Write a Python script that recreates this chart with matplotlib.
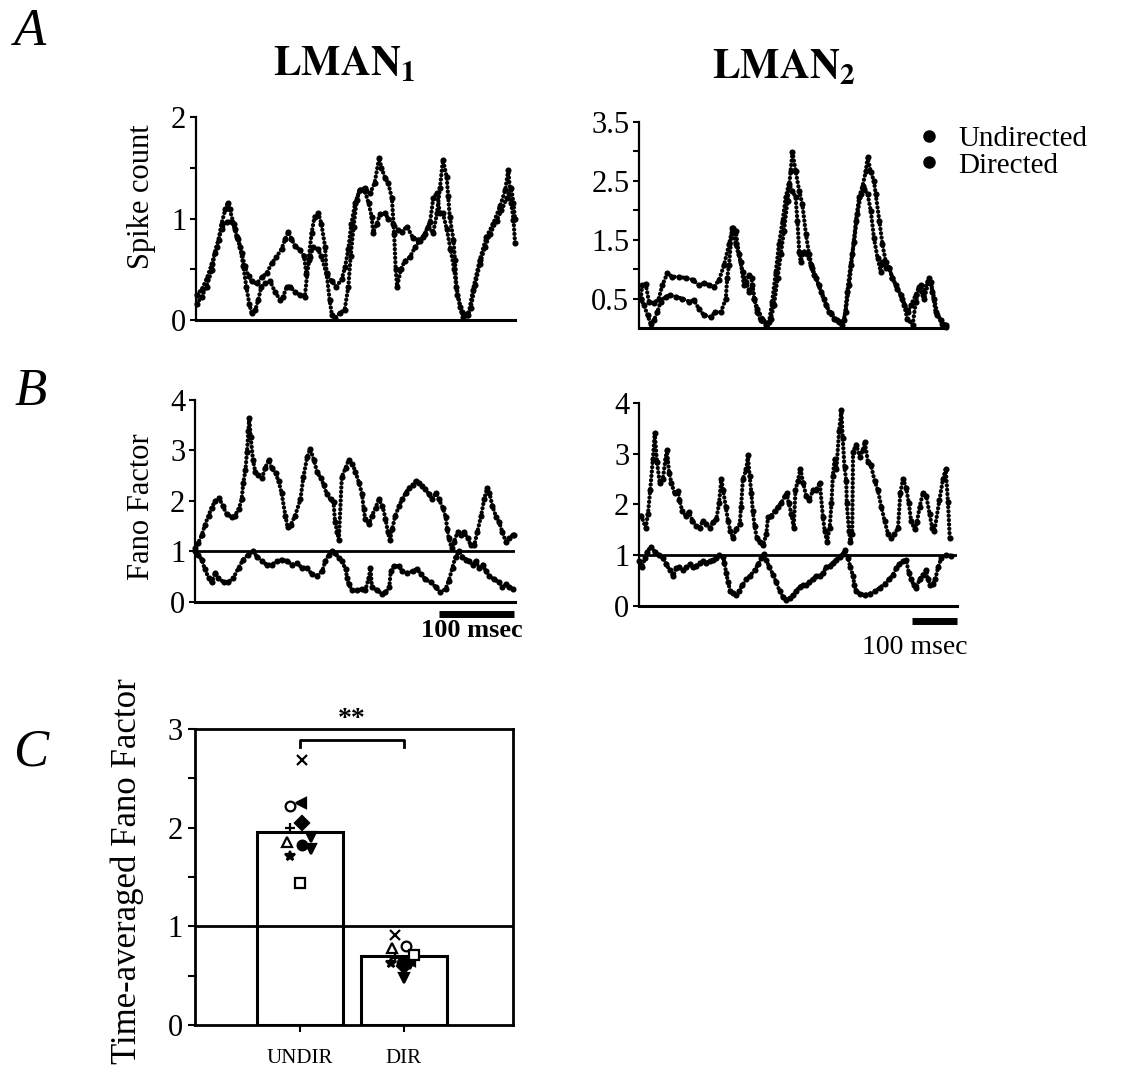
import matplotlib
matplotlib.use('Agg')
import matplotlib.pyplot as plt
from matplotlib.lines import Line2D

plt.rcParams['font.family'] = 'serif'
plt.rcParams['font.serif'] = ['Liberation Serif', 'DejaVu Serif']
plt.rcParams['mathtext.fontset'] = 'stix'

# ---- data (time in msec) ----
# A, LMAN1 spike count
a1_t1 = [1, 7.5, 14, 21, 25, 30, 34, 39, 42, 45, 50, 54, 59, 63, 67, 71, 74, 79, 83, 87,
         92, 99, 105, 112, 116, 121, 125, 132, 138, 145, 150, 154, 158, 163, 167, 172, 174, 178, 181, 185,
         192, 198, 203, 206, 210, 214, 218, 225, 230, 234, 236, 241, 245, 252, 256, 263, 269, 274, 281, 289,
         296, 303, 309, 316, 321, 325, 329, 334, 336, 338, 343, 345, 347, 352, 356, 363, 369, 378, 387, 396,
         405, 412, 416, 420, 423, 425]
a1_v1 = [0.16, 0.23, 0.33, 0.49, 0.66, 0.79, 0.95, 1.09, 1.15, 1.09, 0.95, 0.82, 0.72, 0.53, 0.33, 0.16, 0.07, 0.10, 0.20, 0.33,
         0.36, 0.38, 0.28, 0.20, 0.23, 0.33, 0.33, 0.28, 0.25, 0.23, 0.59, 0.86, 1.02, 1.05, 0.95, 0.72, 0.46, 0.20, 0.05, 0.02,
         0.07, 0.10, 0.33, 0.63, 0.92, 1.18, 1.28, 1.27, 1.15, 1.02, 0.86, 0.95, 1.04, 1.05, 1.00, 0.95, 0.89, 0.87, 0.92, 0.81,
         0.79, 0.82, 0.92, 0.86, 1.05, 1.30, 1.58, 1.41, 1.22, 1.02, 0.79, 0.59, 0.33, 0.13, 0.03, 0.05, 0.30, 0.59, 0.82, 0.95,
         1.12, 1.28, 1.48, 1.15, 0.99, 0.76]
a1_t2 = [1, 7.5, 14, 21, 27.5, 34, 41, 47.5, 52, 56, 61, 65, 70, 74, 81, 87.5, 94, 101, 107, 114,
         119, 123, 127, 132, 138.5, 144, 147, 152, 156, 162, 167, 174, 181, 187, 194, 198.5, 203, 207, 212, 218,
         225, 232, 238, 244, 247, 252, 256, 261, 264, 266, 268, 273, 278, 285, 292, 298, 305, 312, 316, 321,
         325, 329, 334, 339, 344, 348, 354, 360.5, 366, 372, 378, 385, 392, 400.5, 407, 414, 420, 423, 425]
a1_v2 = [0.25, 0.30, 0.40, 0.55, 0.72, 0.90, 0.97, 0.97, 0.90, 0.80, 0.66, 0.53, 0.43, 0.38, 0.36, 0.42, 0.46, 0.56, 0.62, 0.70,
         0.80, 0.87, 0.80, 0.73, 0.69, 0.63, 0.45, 0.62, 0.72, 0.70, 0.63, 0.45, 0.38, 0.33, 0.40, 0.52, 0.70, 0.95, 1.15, 1.28,
         1.30, 1.25, 1.35, 1.60, 1.50, 1.40, 1.35, 1.20, 0.85, 0.50, 0.33, 0.50, 0.58, 0.62, 0.72, 0.78, 0.85, 0.97, 1.20, 1.25,
         1.05, 1.05, 0.90, 0.70, 0.50, 0.25, 0.08, 0.05, 0.12, 0.35, 0.55, 0.72, 0.85, 0.98, 1.08, 1.20, 1.30, 1.15, 1.00]

# A, LMAN2 spike count
a2_t1 = [4, 7, 15, 22, 33, 44, 52, 63, 74, 89, 104, 119, 133, 145, 156, 167, 178, 189, 200, 208,
         215, 222, 230, 237, 245, 252, 256, 263, 274, 285, 293, 300, 308, 315, 322, 330, 337, 341, 348, 356,
         363, 371, 378, 385, 393, 404, 415, 426, 441, 452, 459, 467, 474, 482, 489, 497, 504, 508, 515, 522,
         526, 534, 541, 548, 556, 563, 574, 585, 597, 604, 615, 622, 630, 641, 648, 656, 663, 674, 683]
a2_v1 = [0.50, 0.73, 0.75, 0.45, 0.42, 0.50, 0.73, 0.93, 0.87, 0.87, 0.85, 0.82, 0.73, 0.76, 0.73, 0.70, 0.82, 1.07, 1.42, 1.70,
         1.65, 1.25, 0.96, 0.79, 0.62, 0.73, 0.50, 0.33, 0.16, 0.07, 0.16, 0.39, 0.85, 1.25, 1.65, 2.16, 2.67, 2.99, 2.67, 2.33,
         2.10, 1.59, 1.25, 1.02, 0.85, 0.62, 0.39, 0.25, 0.13, 0.05, 0.27, 0.73, 1.25, 1.82, 2.22, 2.42, 2.67, 2.90, 2.65, 2.50,
         2.27, 1.82, 1.42, 1.13, 1.02, 0.85, 0.67, 0.50, 0.27, 0.39, 0.56, 0.70, 0.56, 0.79, 0.79, 0.50, 0.22, 0.07, 0.02]
a2_t2 = [4, 11, 19, 26, 33, 41, 48, 59, 70, 82, 96, 111, 122, 133, 144, 159, 170, 182, 193, 196,
         200, 207, 215, 226, 233, 245, 250, 256, 263, 270, 282, 289, 296, 304, 311, 319, 326, 333, 341, 348,
         352, 356, 359, 367, 374, 382, 389, 400, 411, 422, 433, 445, 456, 463, 470, 478, 485, 493, 500, 508,
         515, 522, 530, 537, 541, 548, 556, 563, 571, 582, 589, 596, 608, 615, 626, 634, 645, 652, 659, 671, 682]
a2_v2 = [0.50, 0.39, 0.22, 0.07, 0.13, 0.27, 0.45, 0.53, 0.56, 0.53, 0.50, 0.45, 0.47, 0.33, 0.22, 0.19, 0.27, 0.27, 0.50, 0.85,
         1.07, 1.70, 1.42, 1.13, 0.73, 0.90, 0.85, 0.50, 0.27, 0.13, 0.05, 0.10, 0.45, 0.96, 1.42, 1.82, 2.22, 2.45, 2.33, 2.22,
         1.82, 1.30, 1.13, 1.30, 1.25, 1.07, 0.90, 0.73, 0.50, 0.27, 0.16, 0.10, 0.13, 0.62, 1.07, 1.47, 1.93, 2.27, 2.36, 2.27,
         1.99, 1.53, 1.19, 0.96, 1.13, 1.02, 1.02, 0.85, 0.73, 0.56, 0.39, 0.16, 0.05, 0.45, 0.73, 0.50, 0.85, 0.62, 0.27, 0.13, 0.05]

# B, LMAN1 Fano factor
b1_t1 = [0, 4, 9, 13, 18, 22, 27, 32, 37, 42, 49, 53, 58, 62, 64, 67, 69, 71, 72, 74,
         77, 80, 84, 89, 93, 98, 102, 107, 111, 115, 120, 123, 127, 133, 140, 144, 149, 153, 158, 162,
         167, 171, 175, 180, 184, 186, 189, 191, 195, 200, 204, 209, 213, 218, 222, 224, 226, 231, 235, 240,
         244, 249, 253, 256, 259, 262, 266, 271, 275, 280, 284, 289, 293, 297, 302, 306, 311, 315, 320, 324,
         329, 333, 335, 337, 341, 344, 349, 353, 357, 362, 366, 371, 375, 380, 384, 388, 391, 395, 400, 404,
         408, 413, 417, 422, 424]
b1_v1 = [1.06, 1.16, 1.32, 1.52, 1.71, 1.87, 2.0, 2.06, 1.90, 1.74, 1.68, 1.71, 1.84, 2.03, 2.35, 2.61, 2.97, 3.39, 3.65, 3.26,
         2.81, 2.58, 2.52, 2.45, 2.65, 2.81, 2.65, 2.55, 2.39, 2.16, 1.71, 1.48, 1.52, 1.71, 2.03, 2.48, 2.87, 3.03, 2.81, 2.58,
         2.45, 2.32, 2.13, 2.03, 1.97, 1.58, 1.39, 1.23, 2.48, 2.65, 2.81, 2.74, 2.58, 2.35, 2.13, 1.84, 1.65, 1.55, 1.71, 1.87,
         2.03, 1.90, 1.65, 1.39, 1.23, 1.45, 1.71, 1.90, 2.03, 2.16, 2.26, 2.32, 2.39, 2.35, 2.29, 2.23, 2.13, 2.03, 2.16, 2.03,
         1.87, 1.68, 1.45, 1.26, 1.06, 1.19, 1.39, 1.32, 1.39, 1.26, 1.13, 1.13, 1.39, 1.71, 2.03, 2.26, 2.16, 1.90, 1.68, 1.58,
         1.39, 1.19, 1.26, 1.32, 1.32]
b1_t2 = [0, 4, 9, 13, 18, 22, 27, 31, 38, 44, 51, 58, 64, 71, 77, 82, 89, 95, 102, 109,
         115, 122, 129, 135, 142, 149, 155, 162, 169, 173, 178, 182, 186, 191, 195, 200, 202, 204, 209, 215,
         222, 226, 231, 233, 235, 242, 249, 253, 258, 260, 264, 271, 275, 282, 289, 295, 300, 306, 313, 320,
         326, 333, 337, 342, 346, 351, 355, 360, 364, 369, 373, 377, 382, 386, 391, 397, 404, 408, 413, 417, 422]
b1_v2 = [1.0, 0.94, 0.84, 0.65, 0.48, 0.39, 0.58, 0.48, 0.39, 0.39, 0.48, 0.68, 0.84, 0.94, 1.01, 0.90, 0.81, 0.74, 0.74, 0.81,
         0.84, 0.81, 0.74, 0.77, 0.68, 0.68, 0.55, 0.52, 0.61, 0.81, 0.94, 1.0, 0.97, 0.87, 0.81, 0.65, 0.48, 0.35, 0.23, 0.23,
         0.26, 0.23, 0.48, 0.68, 0.29, 0.23, 0.16, 0.19, 0.29, 0.61, 0.71, 0.71, 0.61, 0.58, 0.61, 0.65, 0.55, 0.45, 0.39, 0.29,
         0.19, 0.26, 0.42, 0.68, 0.90, 1.0, 0.90, 0.84, 0.81, 0.74, 0.81, 0.68, 0.74, 0.61, 0.52, 0.45, 0.39, 0.29, 0.35, 0.29, 0.26]

# B, LMAN2 Fano factor
b2_t1 = [5, 15, 20, 25, 31, 35, 40, 46, 53, 59, 62, 67, 72, 79, 87, 90, 96, 104, 111, 119,
         127, 135, 142, 150, 157, 165, 172, 178, 183, 187, 193, 198, 203, 209, 216, 224, 227, 231, 239, 242,
         246, 250, 253, 257, 262, 268, 276, 283, 287, 294, 302, 309, 316, 324, 329, 333, 339, 344, 348, 353,
         359, 365, 372, 379, 387, 394, 402, 409, 413, 418, 424, 428, 431, 435, 439, 445, 450, 453, 457, 461,
         462, 467, 470, 474, 476, 483, 491, 498, 502, 509, 516, 524, 531, 539, 546, 554, 561, 568, 576, 581,
         587, 594, 600, 605, 613, 618, 624, 631, 639, 646, 652, 657, 668, 676, 682, 687, 691]
b2_v1 = [1.78, 1.54, 1.82, 2.29, 2.90, 3.41, 2.84, 2.43, 2.50, 2.90, 3.07, 2.63, 2.43, 2.22, 2.26, 2.09, 1.88, 1.78, 1.85, 1.68,
         1.58, 1.54, 1.68, 1.61, 1.54, 1.65, 1.71, 2.02, 2.50, 2.29, 1.95, 1.68, 1.48, 1.34, 1.51, 1.61, 1.95, 2.50, 2.70, 2.97,
         2.56, 2.22, 1.88, 1.58, 1.34, 1.27, 1.20, 1.41, 1.75, 1.78, 1.88, 1.95, 2.02, 2.16, 2.22, 2.02, 1.82, 1.54, 2.29, 2.46,
         2.70, 2.43, 2.16, 2.09, 2.29, 2.29, 2.43, 1.75, 1.48, 1.27, 1.54, 2.02, 2.56, 2.90, 2.70, 3.45, 3.86, 3.31, 2.73, 2.46,
         2.02, 1.48, 1.27, 1.41, 3.04, 3.18, 2.94, 3.07, 3.24, 2.84, 2.77, 2.46, 2.29, 1.95, 1.68, 1.41, 1.34, 1.41, 1.54, 2.22,
         2.50, 2.33, 2.02, 1.68, 1.51, 1.65, 1.95, 2.22, 2.16, 1.82, 1.54, 1.48, 2.09, 2.50, 2.70, 2.05, 1.34]
b2_t2 = [1, 7, 13, 18, 27, 35, 44, 53, 61, 68, 76, 83, 90, 98, 105, 113, 120, 127, 135, 142,
         150, 157, 165, 172, 179, 187, 190, 194, 198, 203, 209, 216, 222, 230, 239, 247, 257, 265, 272, 277,
         283, 290, 298, 305, 313, 320, 328, 335, 342, 350, 357, 365, 372, 379, 387, 394, 402, 409, 416, 424,
         431, 439, 446, 453, 459, 465, 470, 476, 479, 483, 491, 502, 513, 524, 535, 546, 557, 565, 572, 579,
         587, 594, 600, 605, 611, 617, 624, 631, 639, 642, 648, 654, 659, 665, 672, 683, 694]
b2_v2 = [0.88, 0.76, 0.94, 1.07, 1.17, 1.07, 1.0, 0.94, 0.82, 0.71, 0.59, 0.74, 0.76, 0.71, 0.76, 0.82, 0.76, 0.79, 0.85, 0.88,
         0.85, 0.88, 0.91, 0.94, 1.0, 0.97, 0.85, 0.65, 0.47, 0.29, 0.26, 0.21, 0.29, 0.41, 0.53, 0.59, 0.71, 0.82, 0.94, 1.03,
         0.91, 0.76, 0.62, 0.47, 0.29, 0.18, 0.12, 0.15, 0.21, 0.29, 0.38, 0.41, 0.41, 0.47, 0.53, 0.59, 0.60, 0.65, 0.76, 0.79,
         0.85, 0.91, 0.97, 1.03, 1.10, 0.94, 0.76, 0.59, 0.41, 0.29, 0.24, 0.22, 0.24, 0.29, 0.35, 0.44, 0.53, 0.62, 0.74, 0.82,
         0.88, 0.91, 0.65, 0.53, 0.41, 0.35, 0.53, 0.62, 0.71, 0.53, 0.41, 0.44, 0.53, 0.76, 0.94, 1.0, 0.99]

# C, time-averaged Fano factor per cell
groups = ['UNDIR', 'DIR']
group_means = [1.96, 0.70]
cell_markers = ['x', 'o', '<', 'D', '+', 'v', '^', 'o', 'v', '*', 's']
cell_filled = [True, False, True, True, True, True, False, True, True, True, False]
undir_ff = [2.69, 2.22, 2.25, 2.05, 2.00, 1.91, 1.86, 1.82, 1.78, 1.71, 1.44]
dir_ff = [0.91, 0.80, 0.65, 0.60, 0.68, 0.48, 0.78, 0.63, 0.62, 0.63, 0.71]
undir_jit = [0.02, -0.10, 0.01, 0.02, -0.10, 0.11, -0.12, 0.02, 0.11, -0.10, 0.0]
dir_jit = [-0.09, 0.02, 0.06, 0.0, -0.09, 0.0, -0.11, -0.02, 0.06, -0.12, 0.10]

fig = plt.figure(figsize=(11.22, 10.79), dpi=100)
TICK_FS = 22


def trace_axes(rect, xmax, ymax):
    ax = fig.add_axes(rect)
    ax.set_xlim(0, xmax)
    ax.set_ylim(0, ymax)
    ax.spines['top'].set_visible(False)
    ax.spines['right'].set_visible(False)
    ax.spines['left'].set_linewidth(1.6)
    ax.spines['bottom'].set_linewidth(2.2)
    ax.set_xticks([])
    ax.tick_params(axis='y', direction='out', length=4, width=1.5, pad=3, labelsize=TICK_FS)
    return ax


def dots(ax, t, v):
    # dotted trace: round dots along the path plus a dot at each sample
    ax.plot(t, v, color='black', lw=3.1, ls=(0, (0.01, 1.0)), dash_capstyle='round', clip_on=False)
    ax.plot(t, v, 'o', color='black', ms=4.4, mew=0, clip_on=False)


# A1
ax = trace_axes([0.1747, 0.7034, 0.2843, 0.1881], 425, 2)
dots(ax, a1_t1, a1_v1)
dots(ax, a1_t2, a1_v2)
ax.set_yticks([0, 0.5, 1, 1.5, 2])
ax.set_yticklabels(['0', '', '1', '', '2'])

# A2
ax = trace_axes([0.5695, 0.696, 0.2736, 0.1909], 682, 3.5)
dots(ax, a2_t1, a2_v1)
dots(ax, a2_t2, a2_v2)
ax.set_yticks([0.5, 1, 1.5, 2, 2.5, 3, 3.5])
ax.set_yticklabels(['0.5', '', '1.5', '', '2.5', '', '3.5'])
leg_handles = [Line2D([], [], marker='o', ls='', color='black', ms=8),
               Line2D([], [], marker='o', ls='', color='black', ms=8)]
ax.legend(leg_handles, ['Undirected', 'Directed'], loc='upper left',
          bbox_to_anchor=(0.805, 0.897), bbox_transform=fig.transFigure,
          frameon=False, fontsize=21, handlelength=0.8, handletextpad=0.6,
          labelspacing=0.0, borderpad=0)

# B1
ax = trace_axes([0.1738, 0.4421, 0.2852, 0.1872], 425, 4)
dots(ax, b1_t1, b1_v1)
dots(ax, b1_t2, b1_v2)
ax.axhline(1, color='black', lw=2)
ax.set_yticks([0, 1, 2, 3, 4])
ax.plot([324, 424], [-0.24, -0.24], color='black', lw=5, solid_capstyle='butt', clip_on=False)
ax.text(368, -0.34, '100 msec', ha='center', va='top', fontsize=19, fontweight='bold')

# B2
ax = trace_axes([0.5695, 0.4384, 0.2834, 0.1881], 707, 4)
dots(ax, b2_t1, b2_v1)
dots(ax, b2_t2, b2_v2)
ax.axhline(1, color='black', lw=2)
ax.set_yticks([0, 1, 2, 3, 4])
ax.plot([607, 707], [-0.3, -0.3], color='black', lw=5, solid_capstyle='butt', clip_on=False)
ax.text(613, -0.58, '100 msec', ha='center', va='top', fontsize=20)

# C
ax = fig.add_axes([0.1738, 0.05, 0.2834, 0.2743])
ax.set_xlim(-1.01, 2.05)
ax.set_ylim(0, 3)
for s in ax.spines.values():
    s.set_linewidth(2)
ax.bar([0, 1], group_means, width=0.83, color='white', edgecolor='black', linewidth=2.2, zorder=1)
ax.axhline(1, color='black', lw=2, zorder=2)
for i, m in enumerate(cell_markers):
    fc = 'black' if cell_filled[i] else 'white'
    ax.plot(undir_jit[i], undir_ff[i], marker=m, color='black', mfc=fc, ms=7, mew=1.6, ls='', zorder=3)
    ax.plot(1 + dir_jit[i], dir_ff[i], marker=m, color='black', mfc=fc, ms=7, mew=1.6, ls='', zorder=3)
ax.plot([0, 0, 1, 1], [2.82, 2.89, 2.89, 2.82], color='black', lw=2)
ax.text(0.5, 3.1, '**', ha='center', va='center', fontsize=20, fontweight='bold', clip_on=False)
ax.set_yticks([0, 0.5, 1, 1.5, 2, 2.5, 3])
ax.set_yticklabels(['0', '', '1', '', '2', '', '3'])
ax.set_xticks([0, 1])
ax.set_xticklabels(groups)
ax.tick_params(axis='y', direction='out', length=5, width=1.5, pad=4, labelsize=TICK_FS)
ax.tick_params(axis='x', direction='out', length=5, width=1.5, pad=12, labelsize=15)

# labels and titles
fig.text(0.1257, 0.8174, 'Spike count', rotation=90, ha='center', va='center', fontsize=22)
fig.text(0.1257, 0.530, 'Fano Factor', rotation=90, ha='center', va='center', fontsize=22)
fig.text(0.113, 0.193, 'Time-averaged Fano Factor', rotation=90, ha='center', va='center', fontsize=25)
fig.text(0.3066, 0.9398, r'$\mathbf{LMAN_1}$', ha='center', va='center', fontsize=30)
fig.text(0.6988, 0.937, r'$\mathbf{LMAN_2}$', ha='center', va='center', fontsize=30)
for letter, y in [('A', 0.958), ('B', 0.6246), ('C', 0.291)]:
    fig.text(0.027, y, letter, ha='center', va='baseline', fontsize=38, style='italic')

fig.savefig('out.png', dpi=100)
